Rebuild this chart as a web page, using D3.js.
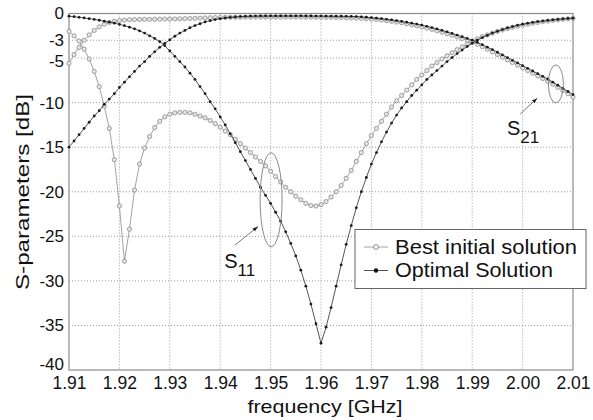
<!DOCTYPE html>
<html>
<head>
<meta charset="utf-8">
<script src="https://cdnjs.cloudflare.com/ajax/libs/d3/7.8.5/d3.min.js"></script>
<style>
  body { margin: 0; background: #fff; }
  text { font-family: "Liberation Sans", Arial, sans-serif; fill: #111; }
</style>
</head>
<body>
<script>
// frequency grid, 1.910 .. 2.010 GHz in 1 MHz steps
var fStart = 1.91, fStep = 0.001, nPts = 101;
var freq = d3.range(nPts).map(function (i) { return +(fStart + i * fStep).toFixed(3); });

var xTicks = [1.91, 1.92, 1.93, 1.94, 1.95, 1.96, 1.97, 1.98, 1.99, 2.00, 2.01];
var xTickLabels = ["1.91", "1.92", "1.93", "1.94", "1.95", "1.96", "1.97", "1.98", "1.99", "2.00", "2.01"];
var yTicks = [0, -3, -5, -10, -15, -20, -25, -30, -35, -40];

// S11, best initial solution (grey, open)
var s11Best = [
  -2.0, -2.5, -3.1, -4.0, -5.1, -6.5, -8.2, -10.4, -12.9, -16.4,
  -21.6, -27.8, -24.2, -19.8, -16.9, -15.1, -13.8, -12.8, -12.1, -11.6,
  -11.3, -11.15, -11.1, -11.1, -11.15, -11.3, -11.5, -11.7, -12.0, -12.35,
  -12.75, -13.2, -13.6, -14.1, -14.6, -15.1, -15.6, -16.1, -16.6, -17.1,
  -17.7, -18.3, -18.9, -19.5, -20.0, -20.5, -20.9, -21.3, -21.55, -21.6,
  -21.45, -21.1, -20.6, -20.0, -19.3, -18.5, -17.6, -16.6, -15.6, -14.6,
  -13.7, -12.9, -12.1, -11.3, -10.5, -9.8, -9.2, -8.6, -8.0, -7.4,
  -6.9, -6.4, -5.9, -5.5, -5.1, -4.75, -4.4, -4.05, -3.75, -3.45,
  -3.15, -2.85, -2.6, -2.4, -2.2, -2.0, -1.85, -1.7, -1.55, -1.42,
  -1.3, -1.2, -1.1, -1.0, -0.92, -0.85, -0.78, -0.72, -0.66, -0.6,
  -0.55
];

// S11, optimal solution (black, filled)
var s11Opt = [
  -0.3, -0.36, -0.43, -0.5, -0.58, -0.66, -0.76, -0.86, -0.97, -1.09,
  -1.22, -1.37, -1.53, -1.72, -1.95, -2.2, -2.5, -2.8, -3.15, -3.6,
  -4.2, -4.8, -5.4, -6.0, -6.7, -7.4, -8.2, -9.0, -9.9, -10.7,
  -11.6, -12.5, -13.5, -14.5, -15.5, -16.5, -17.5, -18.5, -19.5, -20.4,
  -21.3, -22.3, -23.3, -24.5, -25.8, -27.2, -28.8, -30.6, -32.6, -34.8,
  -37.0, -35.2, -33.0, -30.6, -28.2, -25.9, -23.8, -21.8, -20.0, -18.4,
  -16.9, -15.6, -14.4, -13.3, -12.3, -11.4, -10.6, -9.9, -9.2, -8.6,
  -8.0, -7.4, -6.9, -6.4, -5.9, -5.4, -4.95, -4.5, -4.1, -3.7,
  -3.35, -3.0, -2.7, -2.45, -2.2, -2.0, -1.8, -1.62, -1.47, -1.33,
  -1.2, -1.1, -1.0, -0.92, -0.85, -0.78, -0.72, -0.66, -0.61, -0.56,
  -0.52
];

// S21, best initial solution (grey, open)
var s21Best = [
  -5.6, -4.6, -3.8, -3.0, -2.4, -1.9, -1.5, -1.2, -1.0, -0.88,
  -0.8, -0.74, -0.7, -0.68, -0.67, -0.66, -0.66, -0.65, -0.64, -0.63,
  -0.62, -0.61, -0.6, -0.58, -0.56, -0.54, -0.52, -0.5, -0.48, -0.46,
  -0.45, -0.44, -0.43, -0.42, -0.42, -0.41, -0.41, -0.4, -0.4, -0.4,
  -0.4, -0.4, -0.4, -0.4, -0.4, -0.4, -0.4, -0.41, -0.41, -0.42,
  -0.42, -0.43, -0.44, -0.45, -0.46, -0.48, -0.5, -0.52, -0.55, -0.58,
  -0.62, -0.67, -0.73, -0.8, -0.88, -0.96, -1.05, -1.15, -1.26, -1.38,
  -1.5, -1.64, -1.78, -1.93, -2.09, -2.26, -2.44, -2.62, -2.81, -3.0,
  -3.2, -3.45, -3.72, -4.0, -4.3, -4.6, -4.9, -5.2, -5.5, -5.8,
  -6.1, -6.4, -6.7, -7.0, -7.3, -7.6, -7.95, -8.3, -8.65, -9.0,
  -9.4
];

// S21, optimal solution (black, filled)
var s21Opt = [
  -15.0, -14.3, -13.6, -12.9, -12.2, -11.5, -10.9, -10.2, -9.6, -9.0,
  -8.3, -7.7, -7.1, -6.5, -5.9, -5.4, -4.8, -4.3, -3.8, -3.35,
  -2.95, -2.55, -2.2, -1.9, -1.6, -1.35, -1.15, -0.95, -0.8, -0.68,
  -0.58, -0.5, -0.44, -0.39, -0.35, -0.32, -0.3, -0.29, -0.28, -0.28,
  -0.27, -0.27, -0.27, -0.27, -0.27, -0.27, -0.27, -0.28, -0.28, -0.29,
  -0.29, -0.3, -0.3, -0.31, -0.31, -0.32, -0.33, -0.35, -0.38, -0.42,
  -0.47, -0.52, -0.58, -0.65, -0.72, -0.8, -0.89, -0.98, -1.08, -1.19,
  -1.3, -1.44, -1.58, -1.73, -1.89, -2.06, -2.24, -2.42, -2.61, -2.8,
  -3.0, -3.25, -3.5, -3.78, -4.05, -4.35, -4.65, -4.95, -5.25, -5.55,
  -5.85, -6.15, -6.45, -6.75, -7.05, -7.35, -7.7, -8.05, -8.4, -8.75,
  -9.1
];

var legendLabels = ["Best initial solution", "Optimal Solution"];

var W = 593, H = 420;
var pLeft = 69, pRight = 573, pTop = 13.5, pBottom = 370;

var svg = d3.select("body").append("svg")
  .attr("width", W).attr("height", H);

var x = d3.scaleLinear().domain([1.91, 2.01]).range([pLeft, pRight]);
var y = d3.scaleLinear().domain([-40, 0]).range([pBottom, pTop]);

// grid
svg.append("g").selectAll("line")
  .data(xTicks.slice(1, -1)).enter().append("line")
  .attr("x1", function (d) { return x(d); }).attr("x2", function (d) { return x(d); })
  .attr("y1", pTop).attr("y2", pBottom)
  .attr("stroke", "#9a9a9a").attr("stroke-width", 1).attr("stroke-dasharray", "1,2");
svg.append("g").selectAll("line")
  .data(yTicks.slice(1, -1)).enter().append("line")
  .attr("y1", function (d) { return y(d); }).attr("y2", function (d) { return y(d); })
  .attr("x1", pLeft).attr("x2", pRight)
  .attr("stroke", "#9a9a9a").attr("stroke-width", 1).attr("stroke-dasharray", "1,2");

// frame
svg.append("rect")
  .attr("x", pLeft).attr("y", pTop).attr("width", pRight - pLeft).attr("height", pBottom - pTop)
  .attr("fill", "none").attr("stroke", "#8c8c8c").attr("stroke-width", 1.2);

// axes
var xAxis = d3.axisBottom(x).tickValues(xTicks)
  .tickFormat(function (d, i) { return xTickLabels[i]; }).tickSize(0).tickPadding(7);
svg.append("g").attr("transform", "translate(0," + pBottom + ")").call(xAxis)
  .attr("font-size", 17.5).attr("font-family", "Liberation Sans, Arial, sans-serif")
  .call(function (g) { g.select(".domain").remove(); })
  .selectAll("text").attr("fill", "#111");

// -5 and -40 labels sit a little off their grid lines, as in the original
var yNudge = { "-5": 3, "-40": -6 };
var yAxis = d3.axisLeft(y).tickValues(yTicks).tickSize(0).tickPadding(5)
  .tickFormat(function (d) { return String(d); });
svg.append("g").attr("transform", "translate(" + pLeft + ",0)").call(yAxis)
  .attr("font-size", 17).attr("font-family", "Liberation Sans, Arial, sans-serif")
  .call(function (g) { g.select(".domain").remove(); })
  .selectAll("text").attr("fill", "#111")
  .attr("y", function (d) { return yNudge[String(d)] || 0; });

svg.append("text").attr("x", 325).attr("y", 412.5)
  .attr("text-anchor", "middle").attr("font-size", 18.5)
  .attr("textLength", 155).attr("lengthAdjust", "spacingAndGlyphs")
  .text("frequency [GHz]");
svg.append("text")
  .attr("transform", "translate(29,192) rotate(-90)")
  .attr("text-anchor", "middle").attr("font-size", 19)
  .attr("textLength", 196).attr("lengthAdjust", "spacingAndGlyphs")
  .text("S-parameters [dB]");

// series
var series = [
  { vals: s21Best, kind: "best" },
  { vals: s11Best, kind: "best" },
  { vals: s21Opt, kind: "opt" },
  { vals: s11Opt, kind: "opt" }
];

var line = d3.line()
  .x(function (d) { return x(d[0]); })
  .y(function (d) { return y(d[1]); });

series.forEach(function (s) {
  var pts = freq.map(function (f, i) { return [f, s.vals[i]]; });
  var g = svg.append("g");
  g.append("path").datum(pts).attr("d", line).attr("fill", "none")
    .attr("stroke", s.kind == "best" ? "#8a8a8a" : "#2a2a2a")
    .attr("stroke-width", 0.8);
  g.selectAll("circle").data(pts).enter().append("circle")
    .attr("cx", function (d) { return x(d[0]); })
    .attr("cy", function (d) { return y(d[1]); })
    .attr("r", s.kind == "best" ? 2.1 : 1.4)
    .attr("fill", s.kind == "best" ? "#e6e6e6" : "#1a1a1a")
    .attr("stroke", s.kind == "best" ? "#8a8a8a" : "none")
    .attr("stroke-width", 0.8);
});

// annotations
svg.append("defs").append("marker")
  .attr("id", "ah").attr("viewBox", "0 0 10 10").attr("refX", 10).attr("refY", 5)
  .attr("markerWidth", 7).attr("markerHeight", 7).attr("orient", "auto")
  .append("path").attr("d", "M0,1.5 L10,5 L0,8.5 z").attr("fill", "#222");

function note(cf, cdb, rx, ry, from, to, lx, ly, sub) {
  svg.append("ellipse").attr("cx", x(cf)).attr("cy", y(cdb))
    .attr("rx", rx).attr("ry", ry)
    .attr("fill", "none").attr("stroke", "#8a8a8a").attr("stroke-width", 1);
  svg.append("line")
    .attr("x1", x(from[0])).attr("y1", y(from[1]))
    .attr("x2", x(to[0])).attr("y2", y(to[1]))
    .attr("stroke", "#555").attr("stroke-width", 0.8).attr("marker-end", "url(#ah)");
  var t = svg.append("text").attr("x", x(lx)).attr("y", y(ly)).attr("font-size", 20);
  t.append("tspan").text("S");
  t.append("tspan").attr("dy", 8).attr("font-size", 17).text(sub);
}

note(1.9501, -20.9, 11, 47, [1.9429, -26.0], [1.9475, -23.9], 1.9408, -28.5, "11");
note(2.0066, -7.9, 7.5, 19, [1.9995, -11.3], [2.0029, -9.5], 1.9969, -13.6, "21");

// legend
var lg = svg.append("g");
lg.append("rect").attr("x", 355).attr("y", 229.5).attr("width", 231).attr("height", 59)
  .attr("fill", "#fff").attr("stroke", "#666").attr("stroke-width", 1);
legendLabels.forEach(function (lab, i) {
  var yy = 247 + i * 23.5;
  var best = i == 0;
  lg.append("line").attr("x1", 364).attr("x2", 388).attr("y1", yy).attr("y2", yy)
    .attr("stroke", best ? "#8a8a8a" : "#2a2a2a").attr("stroke-width", 0.8);
  lg.append("circle").attr("cx", 376).attr("cy", yy).attr("r", best ? 2.4 : 2.2)
    .attr("fill", best ? "#fff" : "#111").attr("stroke", best ? "#8a8a8a" : "none");
  lg.append("text").attr("x", 395).attr("y", yy + 6.5).attr("font-size", 20.5)
    .attr("textLength", best ? 182 : 158).attr("lengthAdjust", "spacingAndGlyphs")
    .text(lab);
});
</script>
</body>
</html>
